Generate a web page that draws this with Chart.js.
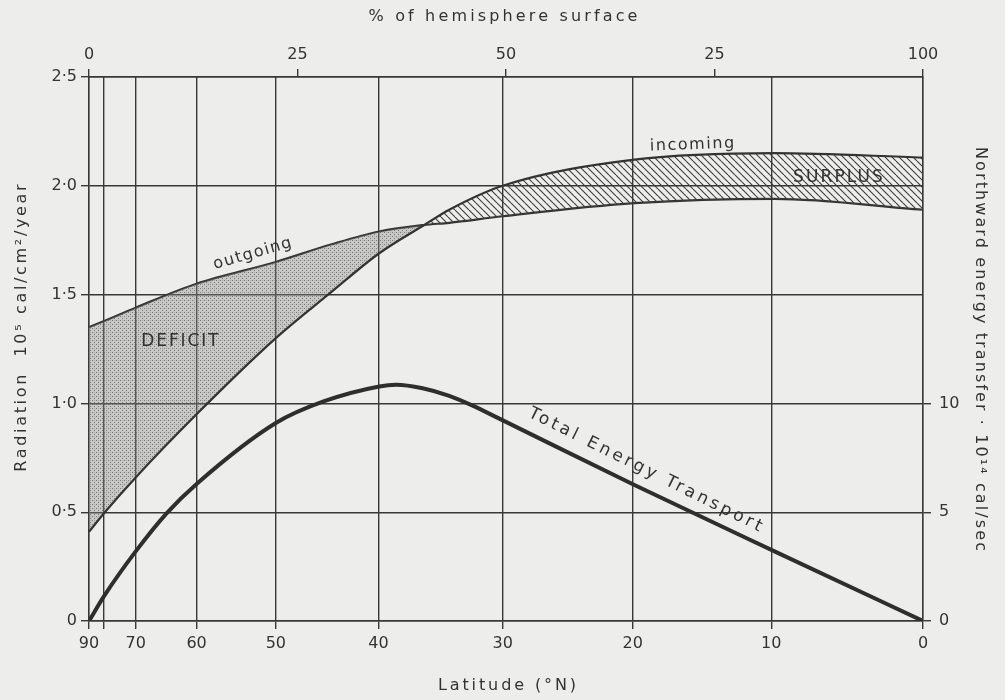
<!DOCTYPE html>
<html>
<head>
<meta charset="utf-8">
<script src="https://cdn.jsdelivr.net/npm/chart.js@4.4.1/dist/chart.umd.min.js"></script>
<style>
  html, body { margin: 0; padding: 0; background: #edeeec; }
  #wrap { width: 1005px; height: 700px; }
</style>
</head>
<body>
<div id="wrap"><canvas id="chart" width="1005" height="700"></canvas></div>
<script>
// x = % of hemisphere surface (0 = pole, 100 = equator)
const surfaceX = [0, 1.9, 5.6, 12.9, 22.4, 29.0, 34.8, 40.2, 43.2, 49.6, 65.4, 82.2, 100];
const incoming = [0.41, 0.50, 0.66, 0.95, 1.30, 1.51, 1.69, 1.82, 1.89, 2.00, 2.12, 2.15, 2.13];
const outgoing = [1.35, 1.38, 1.44, 1.55, 1.65, 1.73, 1.79, 1.82, 1.83, 1.86, 1.92, 1.94, 1.89];

// northward transfer, 10^14 cal/sec (right axis)
const transportX = [0, 1.9, 5.6, 9.3, 12.9, 22.4, 28.2, 34.8, 36.8, 40.0, 43.2, 46.0, 49.2, 65.4, 82.2, 100];
const transport = [0, 1.2, 3.2, 4.95, 6.3, 9.1, 10.1, 10.78, 10.86, 10.7, 10.35, 9.9, 9.3, 6.25, 3.2, 0];

// axis ticks
const latLabels = ['90', '', '70', '60', '50', '40', '30', '20', '10', '0'];
const latPos = [0, 1.8, 5.6, 12.9, 22.4, 34.7, 49.6, 65.2, 81.8, 100];
const surfaceTicks = [0, 25, 50, 75, 100];
const surfaceLabels = ['0', '25', '50', '25', '100'];
const radTicks = [0, 0.5, 1, 1.5, 2, 2.5];
const radLabels = ['0', '0·5', '1·0', '1·5', '2·0', '2·5'];
const transferTicks = [0, 5, 10];

const ink = '#333333';
const gridInk = '#383838';
const tickFont = { family: 'DejaVu Sans', size: 16 };

// Fill patterns
function makeHatch() {
    const c = document.createElement('canvas');
    c.width = 7; c.height = 7;
    const g = c.getContext('2d');
    g.strokeStyle = '#3a3a3a';
    g.lineWidth = 1.1;
    [-7, 0, 7].forEach(k => {
        g.beginPath();
        g.moveTo(k, 0);
        g.lineTo(k + 7, 7);
        g.stroke();
    });
    return g.createPattern(c, 'repeat');
}

function makeStipple() {
    const c = document.createElement('canvas');
    c.width = 4; c.height = 4;
    const g = c.getContext('2d');
    g.fillStyle = 'rgba(140,140,140,0.38)';
    g.fillRect(0, 0, 4, 4);
    g.fillStyle = 'rgba(70,70,70,0.6)';
    g.fillRect(0, 0, 1, 1);
    g.fillRect(2, 2, 1, 1);
    g.fillStyle = 'rgba(90,90,90,0.3)';
    g.fillRect(2, 0, 1, 1);
    return g.createPattern(c, 'repeat');
}

// Spaced text helper
function drawSpaced(ctx, text, x, y, angle, size, width) {
    ctx.save();
    ctx.font = size + 'px "DejaVu Sans"';
    ctx.letterSpacing = '0px';
    const plain = ctx.measureText(text).width;
    const gap = Math.max(0, (width - plain) / text.length);
    ctx.letterSpacing = gap + 'px';
    ctx.translate(x, y);
    ctx.rotate(angle * Math.PI / 180);
    ctx.textAlign = 'center';
    ctx.textBaseline = 'middle';
    ctx.fillStyle = ink;
    ctx.fillText(text, gap / 2, 0);
    ctx.restore();
}

// Labels inside the plot, in data coordinates
const plotLabels = [
    { text: 'outgoing', x: 19.6, y: 1.687, angle: -16, size: 16, width: 82 },
    { text: 'incoming', x: 72.3, y: 2.188, angle: -2, size: 16, width: 86 },
    { text: 'SURPLUS', x: 89.8, y: 2.036, angle: 0, size: 17, width: 92 },
    { text: 'DEFICIT', x: 10.9, y: 1.282, angle: 0, size: 17, width: 79 },
    { text: 'Total Energy Transport', x: 66.7, y: 0.694, angle: 26.5, size: 17, width: 262 }
];

const labelPlugin = {
    id: 'labels',
    afterDatasetsDraw(chart) {
        const ctx = chart.ctx;
        const xs = chart.scales.x, ys = chart.scales.y;
        plotLabels.forEach(l => {
            drawSpaced(ctx, l.text, xs.getPixelForValue(l.x), ys.getPixelForValue(l.y), l.angle, l.size, l.width);
        });
        // axis titles
        drawSpaced(ctx, '% of hemisphere surface', 503, 17, 0, 16, 272);
        drawSpaced(ctx, 'Latitude (°N)', 507, 686, 0, 16, 141);
        drawSpaced(ctx, 'Radiation  10⁵ cal/cm²/year', 22, 328, -90, 16, 290);
        drawSpaced(ctx, 'Northward energy transfer · 10¹⁴ cal/sec', 980, 349, 90, 16, 406);
    }
};

function fixedTicks(values) {
    return scale => { scale.ticks = values.map(v => ({ value: v })); };
}

const ctx = document.getElementById('chart').getContext('2d');

new Chart(ctx, {
    type: 'line',
    data: {
        datasets: [
            {
                label: 'incoming',
                data: surfaceX.map((x, i) => ({ x: x, y: incoming[i] })),
                borderColor: ink,
                borderWidth: 2.2,
                pointRadius: 0,
                cubicInterpolationMode: 'monotone',
                fill: { target: 1, above: makeHatch(), below: makeStipple() },
                xAxisID: 'x',
                yAxisID: 'y'
            },
            {
                label: 'outgoing',
                data: surfaceX.map((x, i) => ({ x: x, y: outgoing[i] })),
                borderColor: ink,
                borderWidth: 2.2,
                pointRadius: 0,
                cubicInterpolationMode: 'monotone',
                fill: false,
                xAxisID: 'x',
                yAxisID: 'y'
            },
            {
                label: 'Total Energy Transport',
                data: transportX.map((x, i) => ({ x: x, y: transport[i] })),
                borderColor: '#2e2e2e',
                borderWidth: 4,
                pointRadius: 0,
                cubicInterpolationMode: 'monotone',
                fill: false,
                xAxisID: 'x',
                yAxisID: 'y2'
            }
        ]
    },
    options: {
        responsive: false,
        animation: false,
        layout: { padding: 0 },
        plugins: {
            legend: { display: false },
            tooltip: { enabled: false }
        },
        scales: {
            x: {
                type: 'linear',
                position: 'bottom',
                min: 0,
                max: 100,
                afterBuildTicks: fixedTicks(latPos),
                afterFit: s => { s.height = 79; },
                ticks: {
                    autoSkip: false,
                    maxRotation: 0,
                    padding: 5,
                    font: tickFont,
                    color: ink,
                    callback: (v, i) => latLabels[i]
                },
                grid: { color: gridInk, lineWidth: 1.4, tickLength: 8 },
                border: { color: gridInk, width: 1.4 }
            },
            x2: {
                type: 'linear',
                position: 'top',
                min: 0,
                max: 100,
                afterBuildTicks: fixedTicks(surfaceTicks),
                afterFit: s => { s.height = 77; },
                ticks: {
                    autoSkip: false,
                    maxRotation: 0,
                    padding: 5,
                    font: tickFont,
                    color: ink,
                    callback: (v, i) => surfaceLabels[i]
                },
                grid: { drawOnChartArea: false, color: gridInk, lineWidth: 1.4, tickLength: 8 },
                border: { color: gridInk, width: 1.4 }
            },
            y: {
                type: 'linear',
                position: 'left',
                min: 0,
                max: 2.5,
                afterBuildTicks: fixedTicks(radTicks),
                afterFit: s => { s.width = 89; },
                ticks: {
                    padding: 4,
                    font: tickFont,
                    color: ink,
                    callback: (v, i) => radLabels[i]
                },
                grid: { color: gridInk, lineWidth: 1.4, tickLength: 8 },
                border: { color: gridInk, width: 1.4 }
            },
            y2: {
                type: 'linear',
                position: 'right',
                min: 0,
                max: 25,
                afterBuildTicks: fixedTicks(transferTicks),
                afterFit: s => { s.width = 82; },
                ticks: {
                    padding: 8,
                    font: tickFont,
                    color: ink,
                    callback: v => String(v)
                },
                grid: { drawOnChartArea: false, color: gridInk, lineWidth: 1.4, tickLength: 8 },
                border: { color: gridInk, width: 1.4 }
            }
        }
    },
    plugins: [labelPlugin]
});
</script>
</body>
</html>
